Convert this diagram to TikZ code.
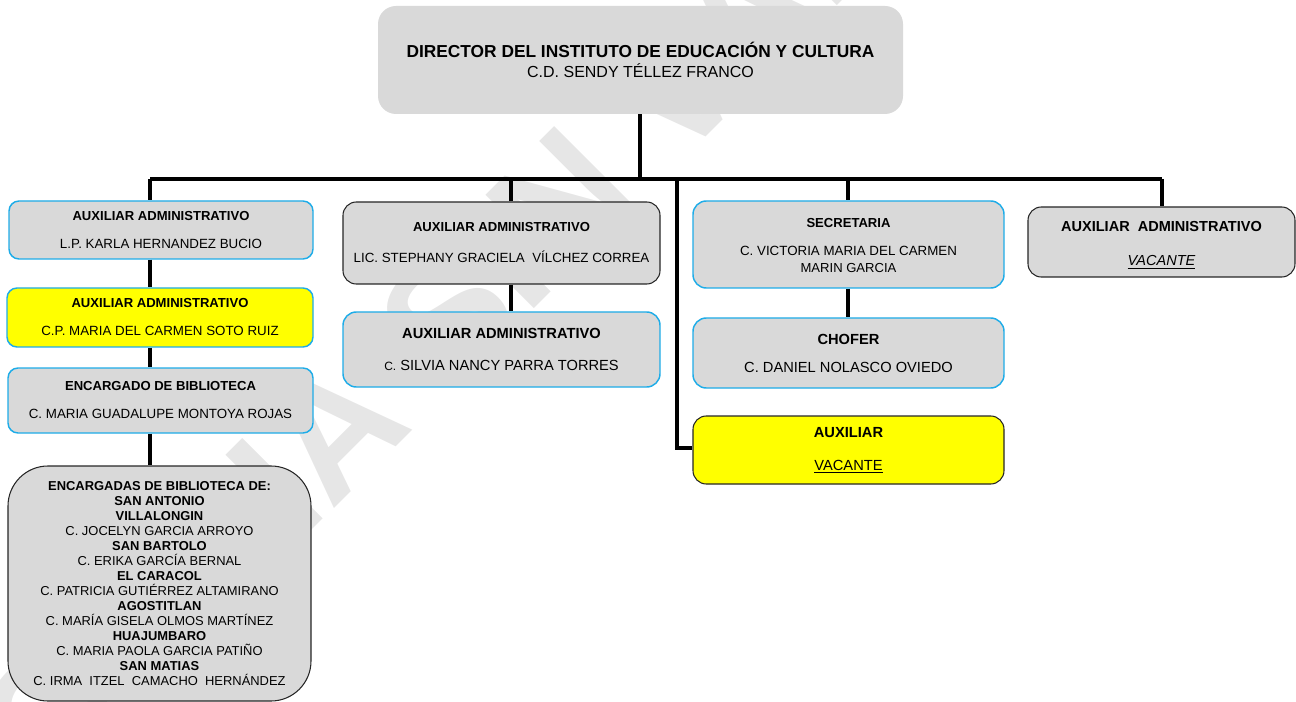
\documentclass[tikz,border=0pt]{standalone}
\usepackage{fontspec}
\setmainfont{Liberation Sans}
\definecolor{boxgray}{HTML}{D9D9D9}
\definecolor{bluebd}{RGB}{30,172,232}
\definecolor{yel}{HTML}{FFFF00}
\definecolor{darkbd}{HTML}{262626}
\definecolor{wmark}{HTML}{E6E6E6}
\tikzset{
  px/.style={x=0.75pt,y=-0.75pt},
  orgbox/.style={rectangle, rounded corners=7.5pt, fill=boxgray, align=center, inner sep=0pt, text=black},
  bluebox/.style={orgbox, draw=bluebd, line width=1.1pt},
  darkbox/.style={orgbox, draw=darkbd, line width=0.8pt},
  yelbox/.style={fill=yel},
  conn/.style={draw=black, line width=2.3pt},
  fs/.style 2 args={font=\fontsize{#1}{#2}\selectfont},
}
\begin{document}
\begin{tikzpicture}[px]
\useasboundingbox (0,0) rectangle (1296,702);
\begin{scope}
\clip (0,0) rectangle (1296,702);
\node[rotate=45, text=wmark, font=\fontsize{124}{124}\selectfont\bfseries] (wm) at (566,196) {COPIA SIN VALIDEZ};
\end{scope}

% Director
\node[orgbox, rounded corners=13.5pt, minimum width=393.75pt, minimum height=81pt, fs={13}{15}] (dir) at (640.5,60)
  {\textbf{DIRECTOR DEL INSTITUTO DE EDUCACIÓN Y CULTURA}\\\fontsize{12}{15}\selectfont C.D. SENDY TÉLLEZ FRANCO};

% left column
\node[bluebox, minimum width=228pt, minimum height=43.5pt, fs={9.8}{21}] (b1) at (161,230)
  {\textbf{AUXILIAR ADMINISTRATIVO}\\\fontsize{10}{21}\selectfont L.P. KARLA HERNANDEZ BUCIO};
\node[bluebox, yelbox, minimum width=229.5pt, minimum height=44.25pt, fs={9.8}{21}] (b2) at (160,317.5)
  {\textbf{AUXILIAR ADMINISTRATIVO}\\\fontsize{10}{21}\selectfont C.P. MARIA DEL CARMEN SOTO RUIZ};
\node[bluebox, minimum width=228.75pt, minimum height=48.75pt, fs={9.8}{21}] (b3) at (160.5,400.5)
  {\textbf{ENCARGADO DE BIBLIOTECA}\\\fontsize{10}{21}\selectfont C. MARIA GUADALUPE MONTOYA ROJAS};
\node[darkbox, rounded corners=30pt, minimum width=227.25pt, minimum height=176.25pt, fs={9.7}{11.3}] (b4) at (159.5,583.5)
  {\textbf{ENCARGADAS DE BIBLIOTECA DE:}\\
   \textbf{SAN ANTONIO}\\
   \textbf{VILLALONGIN}\\
   C. JOCELYN GARCIA ARROYO\\
   \textbf{SAN BARTOLO}\\
   C. ERIKA GARCÍA BERNAL\\
   \textbf{EL CARACOL}\\
   C. PATRICIA GUTIÉRREZ ALTAMIRANO\\
   \textbf{AGOSTITLAN}\\
   C. MARÍA GISELA OLMOS MARTÍNEZ\\
   \textbf{HUAJUMBARO}\\
   C. MARIA PAOLA GARCIA PATIÑO\\
   \textbf{SAN MATIAS}\\
   C. IRMA\ \ ITZEL\ \ CAMACHO\ \ HERNÁNDEZ};

% middle column
\node[darkbox, rounded corners=10pt, minimum width=237.75pt, minimum height=61.5pt, fs={9.8}{23.25}] (m1) at (501.5,243)
  {\textbf{AUXILIAR ADMINISTRATIVO}\\\fontsize{10}{23.25}\selectfont LIC. STEPHANY GRACIELA\ \ VÍLCHEZ CORREA};
\node[bluebox, rounded corners=10pt, minimum width=237.75pt, minimum height=56.25pt, fs={11}{24}] (m2) at (501.5,349.5)
  {\textbf{AUXILIAR ADMINISTRATIVO}\\{\fontsize{9}{24}\selectfont C.} SILVIA NANCY PARRA TORRES};

% right-middle column
\node[bluebox, rounded corners=10pt, minimum width=233.25pt, minimum height=65.25pt, fs={9.8}{21}] (sec) at (848.5,244.5)
  {\rule{0pt}{8pt}\textbf{SECRETARIA}\\\fontsize{10}{21}\selectfont C. VICTORIA MARIA DEL CARMEN\\[-8.25pt]MARIN GARCIA};
\node[bluebox, rounded corners=10pt, minimum width=233.25pt, minimum height=52.5pt, fs={11}{21}] (cho) at (848.5,353)
  {\textbf{CHOFER}\\C. DANIEL NOLASCO OVIEDO};
\node[darkbox, yelbox, rounded corners=10pt, minimum width=233.25pt, minimum height=51pt, fs={11}{24.75}] (aux) at (848.5,450)
  {\textbf{AUXILIAR}\\\underline{VACANTE}};

% right box
\node[darkbox, rounded corners=10pt, minimum width=200.25pt, minimum height=52.5pt, fs={10.9}{26}] (rb) at (1161.5,242)
  {\rule{0pt}{12pt}\textbf{AUXILIAR\ \ ADMINISTRATIVO}\\\underline{\itshape VACANTE}};

% connectors
\coordinate (top) at (640,179);
\coordinate (j1) at (150,179);
\coordinate (j2) at (511,179);
\coordinate (j3) at (677,179);
\coordinate (j4) at (848,179);
\coordinate (j5) at (1162,179);
\draw[conn] (dir.south -| top) -- (top);
\draw[conn] (j1) -- (j5);
\draw[conn] (j1) -- (j1 |- b1.north);
\draw[conn] (b1.south -| j1) -- (b2.north -| j1);
\draw[conn] (b2.south -| j1) -- (b3.north -| j1);
\draw[conn] (b3.south -| j1) -- (b4.north -| j1);
\draw[conn] (j2) -- (j2 |- m1.north);
\draw[conn] (m1.south -| j2) -- (m2.north -| j2);
\draw[conn] (j3) |- ([yshift=1.5pt]aux.west);
\draw[conn] (j4) -- (j4 |- sec.north);
\draw[conn] (sec.south -| j4) -- (cho.north -| j4);
\draw[conn] (j5) -- (j5 |- rb.north);
\end{tikzpicture}
\end{document}
